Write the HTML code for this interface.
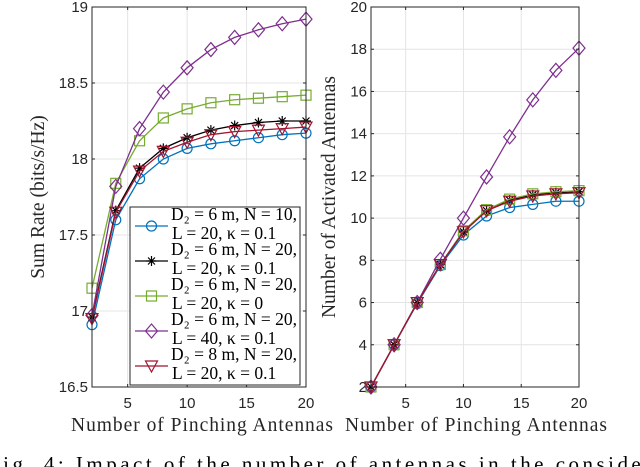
<!DOCTYPE html>
<html><head><meta charset="utf-8">
<style>
body{margin:0;background:#fff;width:640px;height:467px;overflow:hidden}
svg{display:block}
.tk{font-family:"Liberation Sans",sans-serif;font-size:15px;fill:#262626}
.ti{font-family:"Liberation Serif",serif;font-size:19.5px;fill:#262626}
.lg{font-family:"Liberation Serif",serif;font-size:17.5px;fill:#000}
</style></head><body>
<svg id="c" width="640" height="467"></svg>
<script>
const xs=[2,4,6,8,10,12,14,16,18,20];
const sumBlue=[16.91,17.60,17.87,18.00,18.07,18.10,18.12,18.14,18.16,18.17];
const sumBlack=[16.96,17.66,17.94,18.07,18.14,18.19,18.22,18.24,18.25,18.25];
const sumGreen=[17.15,17.84,18.12,18.27,18.33,18.37,18.39,18.40,18.41,18.42];
const sumPurple=[16.97,17.82,18.20,18.44,18.60,18.72,18.80,18.85,18.89,18.92];
const sumRed=[16.95,17.65,17.92,18.05,18.11,18.16,18.18,18.19,18.20,18.21];
const actBlue=[2,4,5.95,7.75,9.2,10.1,10.5,10.65,10.8,10.8];
const actBlack=[2,4,6,7.8,9.35,10.35,10.85,11.1,11.2,11.25];
const actGreen=[2,4,6,7.8,9.4,10.4,10.9,11.15,11.25,11.3];
const actPurple=[2,4,6,8.05,10,11.95,13.85,15.6,17,18.05];
const actRed=[2,4,6,7.8,9.35,10.35,10.8,11.05,11.15,11.2];
const xTicks=[5,10,15,20];
const leftYTicks=[16.5,17,17.5,18,18.5,19];
const leftYLabels=["16.5","17","17.5","18","18.5","19"];
const rightYTicks=[2,4,6,8,10,12,14,16,18,20];
const legendLines=[["D₂ = 6 m, N = 10,","L = 20, κ = 0.1"],["D₂ = 6 m, N = 20,","L = 20, κ = 0.1"],["D₂ = 6 m, N = 20,","L = 20, κ = 0"],["D₂ = 6 m, N = 20,","L = 40, κ = 0.1"],["D₂ = 8 m, N = 20,","L = 20, κ = 0.1"]];
const colors=["#0072BD","#000000","#77AC30","#7E2F8E","#A2142F"];
const markers=["circle","star","square","diamond","triangle"];
const names=["n10-k01","n20-k01","n20-k0","l40","d8"];
const NS="http://www.w3.org/2000/svg";
const svg=document.getElementById('c');
function el(t,a,p){const e=document.createElementNS(NS,t);for(const k in a)e.setAttribute(k,a[k]);(p||svg).appendChild(e);return e;}
function marker(g,type,x,y,c){
  let m;
  if(type==="circle")m=el('circle',{cx:x,cy:y,r:5,fill:'none',stroke:c,'stroke-width':1.2},g);
  else if(type==="square")m=el('rect',{x:x-5,y:y-5,width:10,height:10,fill:'none',stroke:c,'stroke-width':1.2},g);
  else if(type==="diamond")m=el('path',{d:`M${x} ${y-7}L${x+6} ${y}L${x} ${y+7}L${x-6} ${y}Z`,fill:'none',stroke:c,'stroke-width':1.2},g);
  else if(type==="triangle")m=el('path',{d:`M${x-6} ${y-5}L${x+6} ${y-5}L${x} ${y+6}Z`,fill:'none',stroke:c,'stroke-width':1.2},g);
  else m=el('path',{d:`M${x-5} ${y}H${x+5}M${x} ${y-5}V${y+5}M${x-3.5} ${y-3.5}L${x+3.5} ${y+3.5}M${x-3.5} ${y+3.5}L${x+3.5} ${y-3.5}`,stroke:c,'stroke-width':1.2},g);
  
  
}
function panel(id,x0,x1,y0,y1,ymin,ymax,yt,yl,series,ytitle,titleX){
  const g=el('g',{});
  
  
  const sx=v=>x0+(v-2)/18*(x1-x0);
  const sy=v=>y1-(v-ymin)/(ymax-ymin)*(y1-y0);
  el('rect',{x:x0,y:y0,width:x1-x0,height:y1-y0,fill:'#fff',stroke:'none'},g);
  xTicks.forEach(t=>{
    const l=el('line',{x1:sx(t),x2:sx(t),y1:y0,y2:y1,stroke:'#e4e4e4','stroke-width':1},g);
    
    
    el('line',{x1:sx(t),x2:sx(t),y1:y1,y2:y1-3,stroke:'#262626'},g);
    el('line',{x1:sx(t),x2:sx(t),y1:y0,y2:y0+3,stroke:'#262626'},g);
    const tx=el('text',{x:sx(t),y:y1+21,'text-anchor':'middle',class:'tk'},g);tx.textContent=t;
    
    
  });
  yt.forEach((t,i)=>{
    const l=el('line',{x1:x0,x2:x1,y1:sy(t),y2:sy(t),stroke:'#e4e4e4','stroke-width':1},g);
    
    
    el('line',{x1:x0,x2:x0+3,y1:sy(t),y2:sy(t),stroke:'#262626'},g);
    el('line',{x1:x1,x2:x1-3,y1:sy(t),y2:sy(t),stroke:'#262626'},g);
    const tx=el('text',{x:x0-4,y:sy(t)+5,'text-anchor':'end',class:'tk'},g);tx.textContent=yl[i];
    
    
  });
  series.forEach((s,k)=>{
    const sg=el('g',{},g);
    
    
    const p=el('polyline',{points:xs.map((x,i)=>sx(x)+','+sy(s[i])).join(' '),fill:'none',stroke:colors[k],'stroke-width':1.3},sg);
    
    
    xs.forEach((x,i)=>marker(sg,markers[k],sx(x),sy(s[i]),colors[k]));
  });
  el('rect',{x:x0,y:y0,width:x1-x0,height:y1-y0,fill:'none',stroke:'#262626','stroke-width':1},g);
  const xt=el('text',{x:titleX-131,y:431,class:'ti',textLength:262},g);xt.textContent='Number of Pinching Antennas';
  
  
  const cx=x0-(id==='left-panel'?48:36),cy=(y0+y1)/2;
  const yt2=el('text',{x:cx,y:cy,'text-anchor':'middle',class:'ti',transform:`rotate(-90 ${cx} ${cy})`},g);yt2.textContent=ytitle;
  
  
}
panel('left-panel',92,306,7,387,16.5,19,leftYTicks,leftYLabels,[sumBlue,sumBlack,sumGreen,sumPurple,sumRed],'Sum Rate (bits/s/Hz)',202);
panel('right-panel',371,579,7,387,2,20,rightYTicks,rightYTicks.map(String),[actBlue,actBlack,actGreen,actPurple,actRed],'Number of Activated Antennas',476);
const lg=el('g',{});


el('rect',{x:130,y:207,width:170,height:178,fill:'#fff',stroke:'#262626','stroke-width':1},lg);
legendLines.forEach((ls,k)=>{
  const yc=226+k*35;
  const eg=el('g',{},lg);
  
  
  el('line',{x1:135,x2:168,y1:yc,y2:yc,stroke:colors[k],'stroke-width':1.3},eg);
  marker(eg,markers[k],151.5,yc,colors[k]);
  const t1=el('text',{x:297,y:yc-6,'text-anchor':'end',class:'lg'},eg);t1.textContent=ls[0];
  const t2=el('text',{x:172,y:yc+13,class:'lg'},eg);t2.textContent=ls[1];
});
const cap=el('text',{x:-12,y:471,class:'ti',textLength:690,style:'font-size:21px;fill:#000'});
cap.textContent='Fig. 4: Impact of the number of antennas in the considered';


</script>
</body></html>
